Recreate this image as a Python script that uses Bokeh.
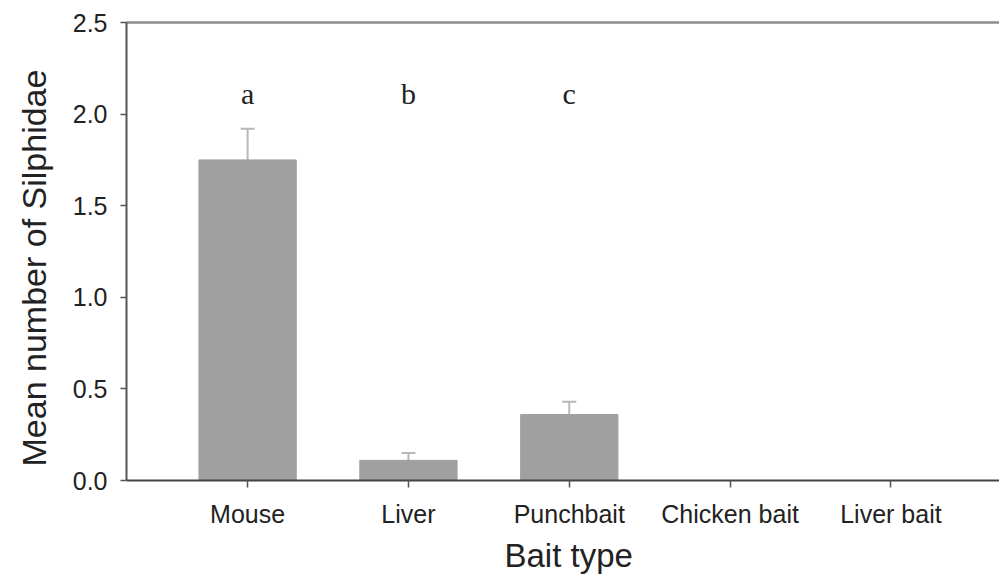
from bokeh.plotting import figure
from bokeh.models import (ColumnDataSource, FixedTicker, LinearAxis, Range1d,
                          Whisker, TeeHead, Title)
from bokeh.core.properties import value
from bokeh.embed import file_html
from bokeh.resources import INLINE

# Mean Silphidae caught per bait type, with upper error values and group letters
baits = ["Mouse", "Liver", "Punchbait", "Chicken bait", "Liver bait"]
means = [1.75, 0.11, 0.36, 0.0, 0.0]
upper = [1.92, 0.15, 0.43, 0.0, 0.0]
letters = ["a", "b", "c"]
y_ticks = [0.0, 0.5, 1.0, 1.5, 2.0, 2.5]

LETTER_Y = 2.11  # height at which the significance letters sit

pos = list(range(len(baits)))
src = ColumnDataSource(dict(x=pos, top=means))
err_src = ColumnDataSource(dict(x=pos[:3], upper=upper[:3], base=means[:3]))
let_src = ColumnDataSource(dict(x=pos[:len(letters)],
                                y=[LETTER_Y] * len(letters), t=letters))

p = figure(width=999, height=582, output_backend="svg", toolbar_location=None,
           x_range=Range1d(-0.753, 4.675), y_range=Range1d(0, 2.5),
           min_border_left=125, min_border_right=0, min_border_top=22,
           min_border_bottom=102)
p.outline_line_color = None
p.grid.visible = False
p.background_fill_color = "white"
p.border_fill_color = "white"

p.vbar(x="x", top="top", bottom=0, width=0.605, source=src,
       fill_color="#a0a0a0", line_color="#a0a0a0", line_width=1)

err = Whisker(base="x", lower="base", upper="upper", source=err_src,
              line_color="#b8b8b8", line_width=2,
              upper_head=TeeHead(size=14, line_color="#b8b8b8", line_width=2),
              lower_head=None)
p.add_layout(err)

p.text(x="x", y="y", text="t", source=let_src, text_align="center",
       text_baseline="middle", text_font=value("Liberation Serif"),
       text_font_size="30px", text_color="#222222")

# left axis
ya = p.yaxis[0]
ya.ticker = FixedTicker(ticks=y_ticks)
ya.major_label_overrides = {t: f"{t:.1f}" for t in y_ticks}
ya.minor_tick_line_color = None
ya.major_tick_in = 0
ya.major_tick_out = 6
ya.axis_line_color = "#555555"
ya.axis_line_width = 2
ya.major_tick_line_color = "#555555"
ya.major_tick_line_width = 1.5
ya.major_label_text_font = "Liberation Sans"
ya.major_label_text_font_size = "25px"
ya.major_label_text_color = "#222222"
ya.major_label_standoff = 13

# bottom axis
xa = p.xaxis[0]
xa.ticker = FixedTicker(ticks=pos)
xa.major_label_overrides = {i: b for i, b in enumerate(baits)}
xa.minor_tick_line_color = None
xa.major_tick_in = 0
xa.major_tick_out = 7
xa.axis_line_color = "#444444"
xa.axis_line_width = 2
xa.major_tick_line_color = "#555555"
xa.major_tick_line_width = 1.5
xa.major_label_text_font = "Liberation Sans"
xa.major_label_text_font_size = "25px"
xa.major_label_text_color = "#222222"
xa.major_label_standoff = 12

# axis titles as side titles so they can be shifted along the frame
p.add_layout(Title(text="Mean number of Silphidae", align="left", offset=14,
                   vertical_align="top",
                   text_font="Liberation Sans", text_font_size="34px",
                   text_font_style="normal", text_color="#222222",
                   standoff=29), "left")
p.add_layout(Title(text="Bait type", align="left", offset=378,
                   text_font="Liberation Sans", text_font_size="33px",
                   text_font_style="normal", text_color="#222222",
                   standoff=8), "below")

# top frame line
top = LinearAxis(ticker=FixedTicker(ticks=[]), major_label_text_font_size="0px",
                 axis_line_color="#8c8c8c", axis_line_width=2.5,
                 major_tick_line_color=None, minor_tick_line_color=None)
p.add_layout(top, "above")

open("out.html", "w").write(file_html(p, INLINE))
